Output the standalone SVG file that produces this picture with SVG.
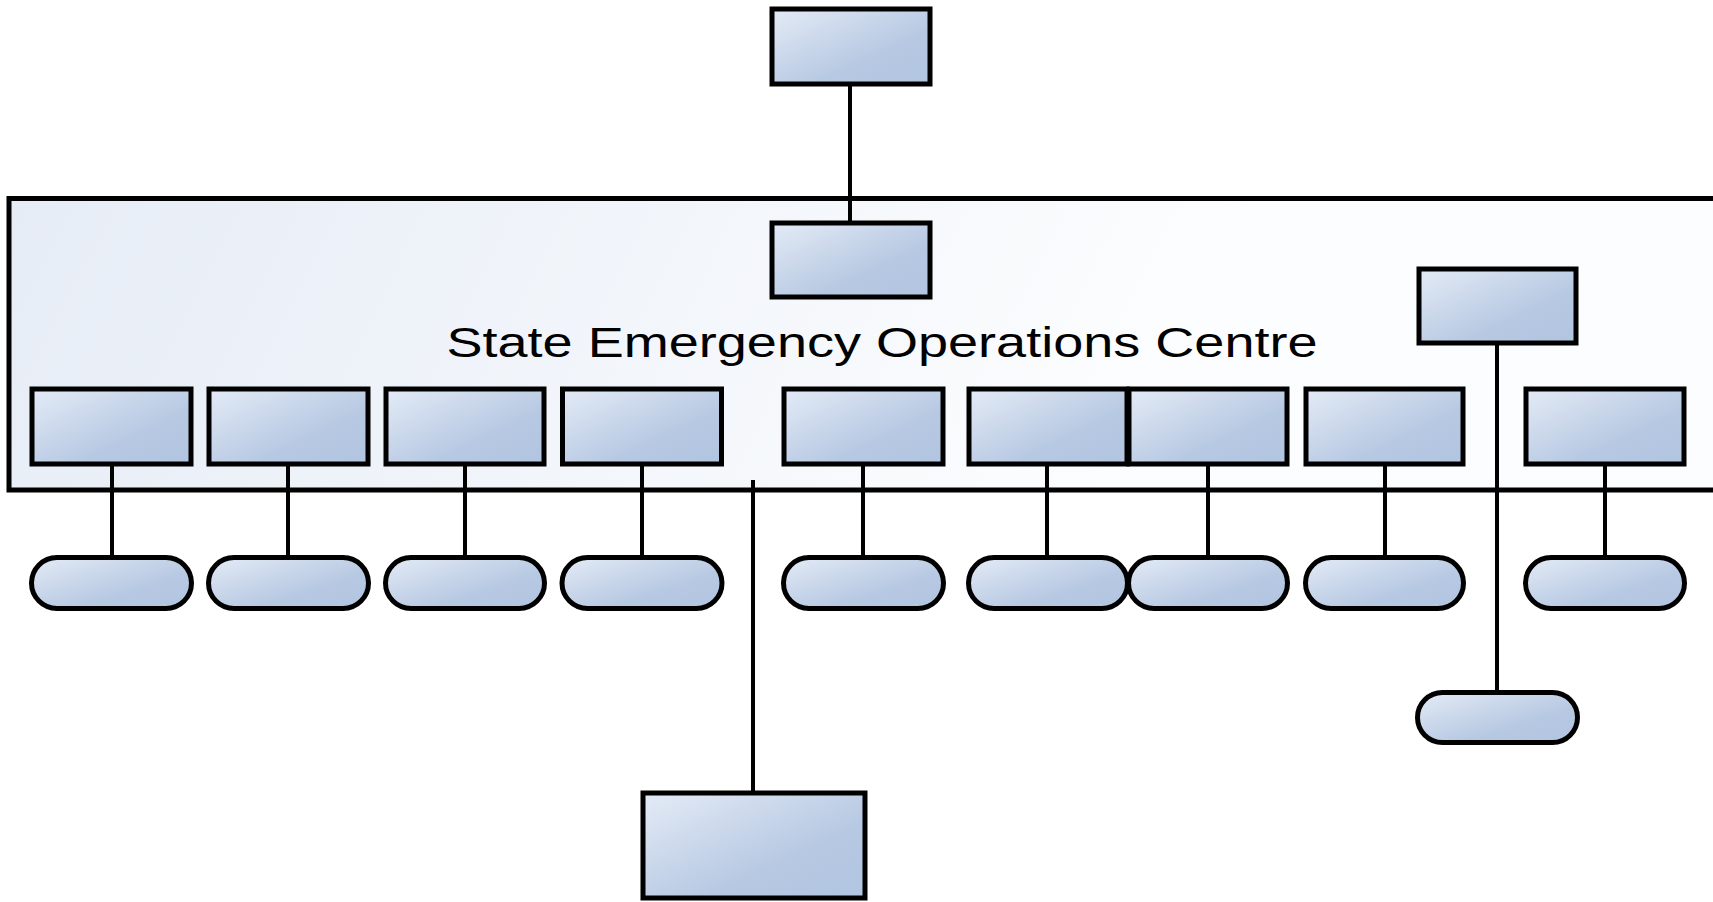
<svg xmlns="http://www.w3.org/2000/svg" width="1713" height="902" viewBox="0 0 1713 902">
<defs>
<linearGradient id="gBox" x1="0" y1="0" x2="1" y2="1">
<stop offset="0" stop-color="#e4ebf6"/>
<stop offset="0.65" stop-color="#b6c8e2"/>
<stop offset="1" stop-color="#b2c5e0"/>
</linearGradient>
<linearGradient id="gCont" gradientUnits="userSpaceOnUse" x1="0" y1="200" x2="1000" y2="700">
<stop offset="0" stop-color="#e6ecf6"/>
<stop offset="1" stop-color="#fcfdfe"/>
</linearGradient>
<style>
.box{fill:url(#gBox);stroke:#000;stroke-width:5}
.cont{fill:url(#gCont);stroke:#000;stroke-width:5}
.conn line{stroke:#000;stroke-width:4}
.lbl{font-family:"Liberation Sans",Arial,sans-serif;font-size:42px;fill:#000}
</style>
</defs>
<rect width="1713" height="902" fill="#fff"/>
<g id="container">
<rect class="cont" x="9" y="198.5" width="1760" height="291.5"/>
<text class="lbl" x="446.5" y="356.5" textLength="871" lengthAdjust="spacingAndGlyphs">State Emergency Operations Centre</text>
</g>
<g id="connectors" class="conn">
<line x1="850" y1="85" x2="850" y2="223"/>
<line x1="112" y1="465" x2="112" y2="558"/>
<line x1="288" y1="465" x2="288" y2="558"/>
<line x1="465" y1="465" x2="465" y2="558"/>
<line x1="642" y1="465" x2="642" y2="558"/>
<line x1="863" y1="465" x2="863" y2="558"/>
<line x1="1047" y1="465" x2="1047" y2="558"/>
<line x1="1208" y1="465" x2="1208" y2="558"/>
<line x1="1385" y1="465" x2="1385" y2="558"/>
<line x1="1605" y1="465" x2="1605" y2="558"/>
<line x1="753" y1="480" x2="753" y2="793"/>
<line x1="1497" y1="343" x2="1497" y2="693"/>
</g>
<g id="n-top"><rect class="box" x="772" y="9" width="158" height="75"/></g>
<g id="n-head"><rect class="box" x="772" y="223" width="158" height="74"/></g>
<g id="n-right"><rect class="box" x="1419" y="269" width="157" height="74"/></g>
<g id="n-b1"><rect class="box" x="32" y="389" width="159" height="75"/></g>
<g id="n-b2"><rect class="box" x="209" y="389" width="159" height="75"/></g>
<g id="n-b3"><rect class="box" x="386" y="389" width="158" height="75"/></g>
<g id="n-b4"><rect class="box" x="562.5" y="389" width="159" height="75"/></g>
<g id="n-b5"><rect class="box" x="784" y="389" width="159" height="75"/></g>
<g id="n-b6"><rect class="box" x="969" y="389" width="158" height="75"/></g>
<g id="n-b7"><rect class="box" x="1129" y="389" width="158" height="75"/></g>
<g id="n-b8"><rect class="box" x="1306" y="389" width="157" height="75"/></g>
<g id="n-b9"><rect class="box" x="1526" y="389" width="158" height="75"/></g>
<g id="n-p1"><rect class="box" x="31.5" y="557.5" width="160" height="51" rx="25.5"/></g>
<g id="n-p2"><rect class="box" x="208.5" y="557.5" width="160" height="51" rx="25.5"/></g>
<g id="n-p3"><rect class="box" x="385.5" y="557.5" width="159" height="51" rx="25.5"/></g>
<g id="n-p4"><rect class="box" x="562" y="557.5" width="160" height="51" rx="25.5"/></g>
<g id="n-p5"><rect class="box" x="783.5" y="557.5" width="160" height="51" rx="25.5"/></g>
<g id="n-p6"><rect class="box" x="968.5" y="557.5" width="159" height="51" rx="25.5"/></g>
<g id="n-p7"><rect class="box" x="1128.5" y="557.5" width="159" height="51" rx="25.5"/></g>
<g id="n-p8"><rect class="box" x="1305.5" y="557.5" width="158" height="51" rx="25.5"/></g>
<g id="n-p9"><rect class="box" x="1525.5" y="557.5" width="159" height="51" rx="25.5"/></g>
<g id="n-p10"><rect class="box" x="1417.5" y="692.5" width="160" height="50" rx="25"/></g>
<g id="n-bottom"><rect class="box" x="643" y="793" width="222" height="105"/></g>
</svg>
